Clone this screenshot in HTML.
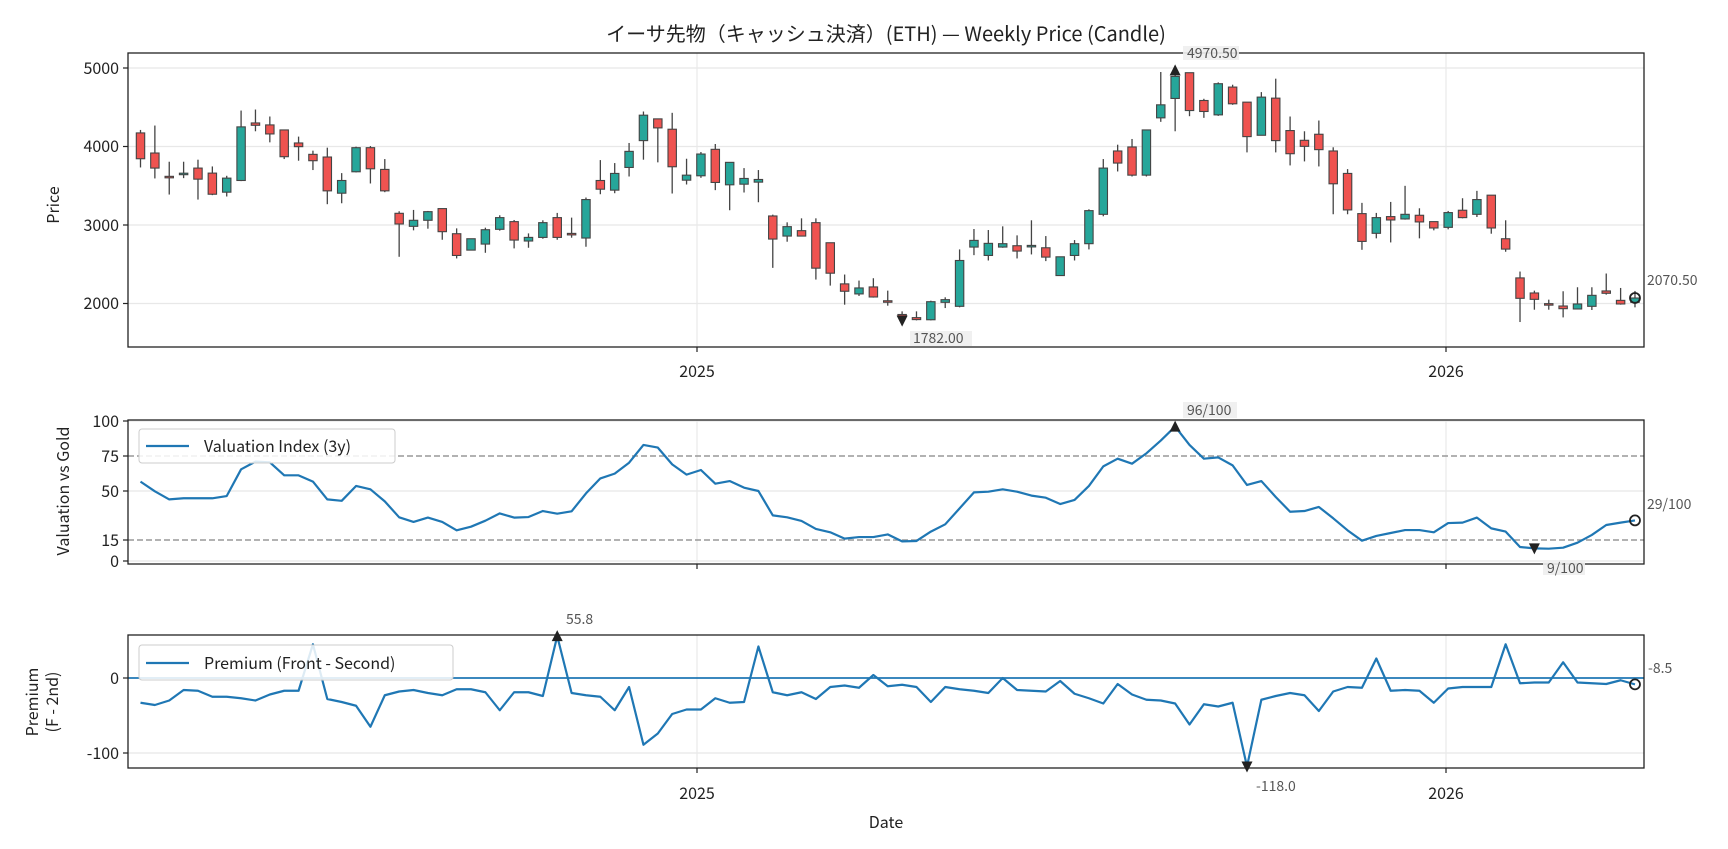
<!DOCTYPE html>
<html><head><meta charset="utf-8">
<style>
html,body{margin:0;padding:0;background:#fff;}
svg{display:block;}
text{font-family:"Noto Sans CJK JP","Liberation Sans",sans-serif;fill:#222;}
.tk{font-size:16px;}
.an{font-size:14px;fill:#555;}
</style></head>
<body>
<svg id="s" width="1728" height="849" viewBox="0 0 1728 849" xmlns="http://www.w3.org/2000/svg">
<rect width="1728" height="849" fill="#fff"/>
<text x="886" y="41" font-size="20" text-anchor="middle">イーサ先物（キャッシュ決済）(ETH) — Weekly Price (Candle)</text>
<g stroke="#e8e8e8" stroke-width="1.2">
<line x1="128" x2="1644" y1="68" y2="68"/><line x1="128" x2="1644" y1="146.5" y2="146.5"/>
<line x1="128" x2="1644" y1="225" y2="225"/><line x1="128" x2="1644" y1="303.5" y2="303.5"/>
<line x1="697" x2="697" y1="53" y2="347"/><line x1="1446" x2="1446" y1="53" y2="347"/>
<line x1="128" x2="1644" y1="561" y2="561"/><line x1="128" x2="1644" y1="491" y2="491"/><line x1="128" x2="1644" y1="421" y2="421"/>
<line x1="697" x2="697" y1="420" y2="564"/><line x1="1446" x2="1446" y1="420" y2="564"/>
<line x1="128" x2="1644" y1="753" y2="753"/>
<line x1="697" x2="697" y1="635" y2="768"/><line x1="1446" x2="1446" y1="635" y2="768"/>
</g>
<g stroke="#999" stroke-width="1.5" stroke-dasharray="6,3">
<line x1="128" x2="1644" y1="456" y2="456"/><line x1="128" x2="1644" y1="540" y2="540"/>
</g>
<line x1="128" x2="1644" y1="678" y2="678" stroke="#1f77b4" stroke-width="1.8"/>
<g id="candles"></g>
<polyline id="val" fill="none" stroke="#1f77b4" stroke-width="2.2" stroke-linejoin="round"/>
<polyline id="prem" fill="none" stroke="#1f77b4" stroke-width="2.2" stroke-linejoin="round"/>
<g id="mk"></g>
<g fill="none" stroke="#222" stroke-width="1.3">
<rect x="128" y="53" width="1516" height="294"/>
<rect x="128" y="420" width="1516" height="144"/>
<rect x="128" y="635" width="1516" height="133"/>
</g>
<g stroke="#222" stroke-width="1.2">
<line x1="123" x2="128" y1="68" y2="68"/><line x1="123" x2="128" y1="146.5" y2="146.5"/><line x1="123" x2="128" y1="225" y2="225"/><line x1="123" x2="128" y1="303.5" y2="303.5"/>
<line x1="697" x2="697" y1="347" y2="352"/><line x1="1446" x2="1446" y1="347" y2="352"/>
<line x1="123" x2="128" y1="421" y2="421"/><line x1="123" x2="128" y1="456" y2="456"/><line x1="123" x2="128" y1="491" y2="491"/><line x1="123" x2="128" y1="540" y2="540"/><line x1="123" x2="128" y1="561" y2="561"/>
<line x1="697" x2="697" y1="564" y2="569"/><line x1="1446" x2="1446" y1="564" y2="569"/>
<line x1="123" x2="128" y1="678" y2="678"/><line x1="123" x2="128" y1="753" y2="753"/>
<line x1="697" x2="697" y1="768" y2="773"/><line x1="1446" x2="1446" y1="768" y2="773"/>
</g>
<g class="tk" text-anchor="end">
<text x="119" y="74">5000</text><text x="119" y="152">4000</text><text x="119" y="231">3000</text><text x="119" y="309">2000</text>
<text x="119" y="427">100</text><text x="119" y="462">75</text><text x="119" y="497">50</text><text x="119" y="546">15</text><text x="119" y="567">0</text>
<text x="119" y="684">0</text><text x="119" y="759">-100</text>
</g>
<g class="tk" text-anchor="middle">
<text x="697" y="377">2025</text><text x="1446" y="377">2026</text>
<text x="697" y="799">2025</text><text x="1446" y="799">2026</text>
<text x="886" y="828">Date</text>
</g>
<text class="tk" transform="translate(59,205) rotate(-90)" text-anchor="middle">Price</text>
<text class="tk" transform="translate(69,491) rotate(-90)" text-anchor="middle">Valuation vs Gold</text>
<text class="tk" transform="translate(38,702) rotate(-90)" text-anchor="middle">Premium</text>
<text class="tk" transform="translate(58,702) rotate(-90)" text-anchor="middle">(F - 2nd)</text>
<rect x="139" y="429" width="256" height="34" rx="3" fill="#fff" fill-opacity="0.85" stroke="#ccc"/>
<line x1="146" x2="189" y1="446" y2="446" stroke="#1f77b4" stroke-width="2.2"/>
<text class="tk" x="204" y="452">Valuation Index (3y)</text>
<rect x="139" y="645" width="314" height="35" rx="3" fill="#fff" fill-opacity="0.85" stroke="#ccc"/>
<line x1="146" x2="189" y1="663" y2="663" stroke="#1f77b4" stroke-width="2.2"/>
<text class="tk" x="204" y="669">Premium (Front - Second)</text>
<rect x="1183" y="46" width="56" height="14" fill="#eee" fill-opacity="0.9"/>
<text class="an" x="1187" y="58">4970.50</text>
<rect x="910" y="331" width="62" height="15" fill="#eee" fill-opacity="0.9"/>
<text class="an" x="913" y="343">1782.00</text>
<text class="an" x="1647" y="285">2070.50</text>
<rect x="1183" y="402" width="54" height="16" fill="#eee" fill-opacity="0.9"/>
<text class="an" x="1187" y="415">96/100</text>
<rect x="1543" y="560" width="42" height="15" fill="#eee" fill-opacity="0.9"/>
<text class="an" x="1547" y="573">9/100</text>
<text class="an" x="1647" y="509">29/100</text>
<text class="an" x="566" y="624">55.8</text>
<text class="an" x="1256" y="791">-118.0</text>
<text class="an" x="1648" y="673">-8.5</text>
</svg>
<script>
var C=[[4173,3844,4211,3733],[3917,3725,4267,3593],[3620,3615,3806,3388],[3650,3660,3806,3597],[3725,3584,3832,3324],[3661,3392,3746,3380],[3418,3597,3627,3363],[3567,4250,4458,3559],[4300,4270,4471,4194],[4275,4160,4382,4053],[4211,3870,4211,3840],[4045,3998,4126,3819],[3900,3819,3947,3700],[3866,3435,3985,3265],[3405,3567,3661,3277],[3678,3985,3998,3670],[3985,3716,4006,3529],[3708,3435,3840,3418],[3149,3013,3175,2595],[2983,3060,3192,2932],[3060,3170,3179,2953],[3209,2915,3209,2812],[2889,2612,2957,2574],[2680,2825,2825,2680],[2757,2940,2966,2646],[2945,3094,3124,2928],[3043,2808,3064,2702],[2796,2842,2893,2710],[2842,3030,3060,2825],[3094,2842,3154,2812],[2893,2885,3094,2838],[2834,3324,3350,2723],[3567,3456,3827,3392],[3444,3657,3789,3405],[3733,3938,4045,3618],[4075,4399,4446,3832],[4352,4237,4352,3798],[4220,3742,4429,3401],[3571,3635,3844,3516],[3627,3904,3930,3601],[3964,3542,4032,3444],[3512,3798,3798,3188],[3520,3593,3725,3414],[3546,3580,3700,3290],[3115,2821,3132,2454],[2859,2979,3034,2787],[2928,2859,3085,2859],[3030,2450,3085,2305],[2774,2386,2774,2228],[2250,2156,2369,1985],[2122,2198,2292,2096],[2211,2083,2322,2075],[2035,2028,2164,1972],[1860,1850,1900,1782],[1820,1795,1900,1785],[1793,2023,2036,1785],[2015,2049,2079,1942],[1964,2548,2689,1951],[2719,2804,2949,2616],[2612,2766,2936,2548],[2719,2762,2983,2710],[2736,2668,2868,2574],[2723,2740,3060,2625],[2710,2591,2859,2540],[2356,2595,2595,2356],[2612,2762,2808,2548],[2762,3183,3200,2689],[3136,3725,3840,3111],[3943,3789,4023,3682],[3994,3635,4096,3618],[3635,4211,4211,3618],[4365,4531,4949,4314],[4612,4893,4970,4194],[4940,4458,4940,4386],[4586,4446,4608,4365],[4403,4800,4817,4390],[4757,4544,4787,4531],[4565,4126,4565,3925],[4143,4629,4693,4143],[4616,4075,4864,3925],[4203,3908,4382,3759],[4079,4002,4194,3810],[4156,3960,4331,3746],[3943,3525,3990,3137],[3657,3192,3712,3137],[3145,2791,3282,2684],[2894,3094,3154,2830],[3107,3064,3294,2778],[3077,3136,3499,3068],[3124,3039,3213,2830],[3043,2962,3043,2932],[2970,3158,3179,2945],[3188,3094,3341,3085],[3136,3324,3435,3102],[3380,2962,3380,2889],[2825,2693,3060,2659],[2326,2066,2407,1764],[2134,2053,2164,1921],[1998,1985,2049,1921],[1968,1934,2156,1823],[1930,1994,2207,1926],[1964,2104,2207,1917],[2160,2130,2382,2113],[2040,1994,2198,1985],[2015,2070,2160,1951]];
var V=[56.7,49.8,44,44.8,44.8,44.8,46.4,65.5,71,70.5,61.2,61.2,56.7,44,43,53.6,51.2,42.6,31.2,27.9,31,27.9,21.9,24.5,28.8,34,31,31.4,35.7,33.8,35.5,48.3,59,62.4,70.2,82.9,81,69,61.7,65,55.2,57.1,52.4,50,32.6,31.2,28.6,22.9,20.5,16,17.1,17.1,19,14,14.3,21,26.2,37.6,49,49.5,51.2,49.5,46.7,45.2,40.7,43.6,53.6,67.6,73.1,69.5,76.9,86,96,82.9,73.1,74,68.3,54.3,57.1,45.7,35.2,35.7,38.6,30.5,21.9,14.5,17.9,20,22.1,22.1,20.5,27.1,27.4,31,23.3,21,10,9,8.8,9.5,13.1,18.6,25.7,27.4,29];
var P=[-33,-36,-30,-16,-17,-25,-25,-27,-30,-22,-17,-17,45,-28,-32,-37,-65,-23,-18,-16,-20,-23,-15,-15,-19,-43,-19,-19,-24,55.8,-20,-23,-25,-43,-12,-89,-74,-48,-42,-42,-27,-33,-32,42,-19,-23,-19,-28,-12,-10,-13,4,-11,-9,-12,-32,-12,-15,-17,-20,0,-16,-17,-18,-4,-21,-27,-34,-8,-22,-29,-30,-34,-62,-35,-38,-33,-118,-29,-24,-20,-23,-44,-18,-12,-13,26,-17,-16,-17,-33,-14,-12,-12,-12,45,-7,-6,-6,21,-6,-7,-8,-3,-8.5];
var NS="http://www.w3.org/2000/svg";
function X(i){return 140.5+i*14.37;}
function YP(p){return 68+(5000-p)*0.0785;}
function YV(v){return 561-1.4*v;}
function YR(v){return 678-0.75*v;}
function el(t,a,par){var e=document.createElementNS(NS,t);for(var k in a)e.setAttribute(k,a[k]);par.appendChild(e);return e;}
var g=document.getElementById("candles");
C.forEach(function(c,i){var x=X(i);var o=c[0],cl=c[1],h=c[2],l=c[3];
el("line",{x1:x,x2:x,y1:YP(h),y2:YP(l),stroke:"#444","stroke-width":1.3},g);
var t=YP(Math.max(o,cl)),b=YP(Math.min(o,cl));if(b-t<1.5){b=t+1.5;}
el("rect",{x:x-4.2,y:t,width:8.4,height:b-t,fill:cl>=o?"#26a69a":"#ef5350",stroke:"#444","stroke-width":1.1},g);});
document.getElementById("val").setAttribute("points",V.map(function(v,i){return X(i)+","+YV(v)}).join(" "));
document.getElementById("prem").setAttribute("points",P.map(function(v,i){return X(i)+","+YR(v)}).join(" "));
var m=document.getElementById("mk");
function up(x,y){el("path",{d:"M"+(x-5.5)+","+(y+5)+"L"+(x+5.5)+","+(y+5)+"L"+x+","+(y-6)+"Z",fill:"#222"},m);}
function dn(x,y){el("path",{d:"M"+(x-5.5)+","+(y-5)+"L"+(x+5.5)+","+(y-5)+"L"+x+","+(y+6)+"Z",fill:"#222"},m);}
function ci(x,y){el("circle",{cx:x,cy:y,r:5,fill:"none",stroke:"#222","stroke-width":1.8},m);}
up(X(72),YP(4970.5));dn(X(53),YP(1782));ci(X(104),YP(2070.5));
up(X(72),YV(96));dn(X(97),YV(9));ci(X(104),YV(29));
up(X(29),YR(55.8));dn(X(77),YR(-118));ci(X(104),YR(-8.5));
</script>
</body></html>
